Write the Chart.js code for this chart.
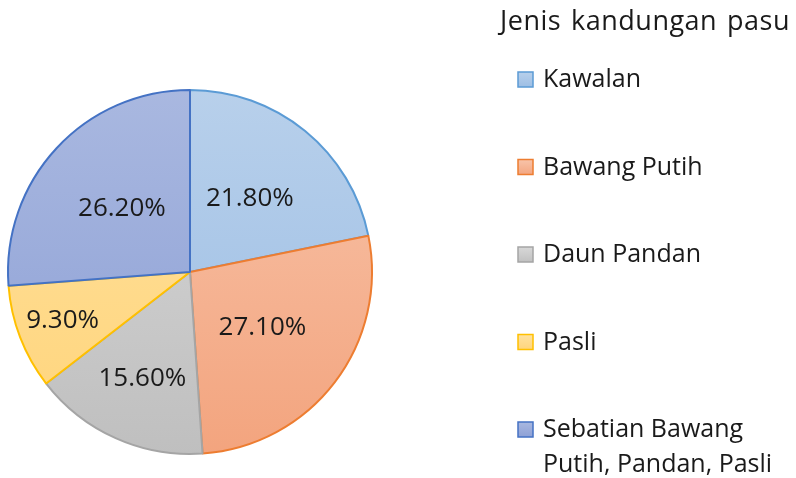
<!DOCTYPE html>
<html>
<head>
<meta charset="utf-8">
<script src="https://cdn.jsdelivr.net/npm/chart.js@4.4.0/dist/chart.umd.min.js"></script>
<style>
  html, body { margin: 0; padding: 0; background: #fff; }
  #wrap { width: 796px; height: 478px; position: relative; }
</style>
</head>
<body>
<div id="wrap"><canvas id="canvas" width="796" height="478"></canvas></div>
<script>
/* data */
const legendTitle = 'Jenis kandungan pasu';
const jenis = ['Kawalan', 'Bawang Putih', 'Daun Pandan', 'Pasli', 'Sebatian Bawang Putih, Pandan, Pasli'];
const peratus = [21.8, 27.1, 15.6, 9.3, 26.2];

/* warna: atas, bawah, garis */
const warnaAtas = ['#b8d0eb', '#f8c4aa', '#d8d8d8', '#ffe2a0', '#a9b8e0'];
const warnaBawah = ['#9bbde4', '#f3a47e', '#bfbfbf', '#ffd47a', '#8c9fd5'];
const warnaGaris = ['#5b9bd5', '#ed7d31', '#a5a5a5', '#ffc000', '#4472c4'];
const labelJarak = [0.52, 0.50, 0.64, 0.75, 0.51];

const FONT = '"Open Sans", sans-serif';

function isiGradien(context) {
  const chart = context.chart;
  const area = chart.chartArea;
  if (!area) return warnaBawah[context.dataIndex];
  const g = chart.ctx.createLinearGradient(0, area.top, 0, area.bottom);
  g.addColorStop(0, warnaAtas[context.dataIndex]);
  g.addColorStop(1, warnaBawah[context.dataIndex]);
  return g;
}

/* label peratus dalam setiap potongan */
const labelPlugin = {
  id: 'labelPeratus',
  afterDatasetsDraw(chart) {
    const ctx = chart.ctx;
    const meta = chart.getDatasetMeta(0);
    ctx.save();
    ctx.font = '26px ' + FONT;
    ctx.fillStyle = '#1a1a1a';
    ctx.textAlign = 'center';
    ctx.textBaseline = 'middle';
    meta.data.forEach(function(arc, i) {
      const mid = (arc.startAngle + arc.endAngle) / 2;
      const r = arc.outerRadius * labelJarak[i];
      const x = arc.x + Math.cos(mid) * r;
      const y = arc.y + Math.sin(mid) * r;
      ctx.fillText(peratus[i].toFixed(2) + '%', x, y);
    });
    ctx.restore();
  }
};

/* legenda di kanan */
const legendPlugin = {
  id: 'legendKanan',
  afterDraw(chart) {
    const ctx = chart.ctx;
    ctx.save();
    ctx.fillStyle = '#1a1a1a';
    ctx.textBaseline = 'middle';
    ctx.textAlign = 'left';
    // judul, perkataan agak jarang
    ctx.font = '27px ' + FONT;
    ctx.letterSpacing = '0.5px';
    const kata = legendTitle.split(' ');
    const lebarKata = kata.reduce(function(s, w) { return s + ctx.measureText(w).width; }, 0);
    const ruang = (290 - lebarKata) / (kata.length - 1);
    let tx = 500;
    kata.forEach(function(w) {
      ctx.fillText(w, tx, 22);
      tx += ctx.measureText(w).width + ruang;
    });
    ctx.letterSpacing = '0px';
    ctx.font = '25px ' + FONT;
    const maxW = 250;
    jenis.forEach(function(teks, i) {
      const y = 80 + i * 87.5;
      // kotak
      const g = ctx.createLinearGradient(0, y - 8, 0, y + 8);
      g.addColorStop(0, warnaAtas[i]);
      g.addColorStop(1, warnaBawah[i]);
      ctx.fillStyle = g;
      ctx.fillRect(518, y - 8, 15, 15);
      ctx.strokeStyle = warnaGaris[i];
      ctx.lineWidth = 1.5;
      ctx.strokeRect(518, y - 8, 15, 15);
      // teks, dibalut
      ctx.fillStyle = '#1a1a1a';
      const words = teks.split(' ');
      const lines = [];
      let line = '';
      words.forEach(function(w) {
        const test = line ? line + ' ' + w : w;
        if (ctx.measureText(test).width > maxW && line) {
          lines.push(line);
          line = w;
        } else {
          line = test;
        }
      });
      lines.push(line);
      lines.forEach(function(l, k) {
        ctx.fillText(l, 543, y + k * 35);
      });
    });
    ctx.restore();
  }
};

const ctx = document.getElementById('canvas');
new Chart(ctx, {
  type: 'pie',
  data: {
    labels: jenis,
    datasets: [{
      data: peratus,
      backgroundColor: isiGradien,
      borderColor: warnaGaris,
      borderWidth: 2
    }]
  },
  options: {
    responsive: false,
    animation: false,
    layout: {
      padding: { left: 7, top: 89, bottom: 23, right: 423 }
    },
    plugins: {
      legend: { display: false },
      tooltip: { enabled: false }
    }
  },
  plugins: [labelPlugin, legendPlugin]
});
</script>
</body>
</html>
